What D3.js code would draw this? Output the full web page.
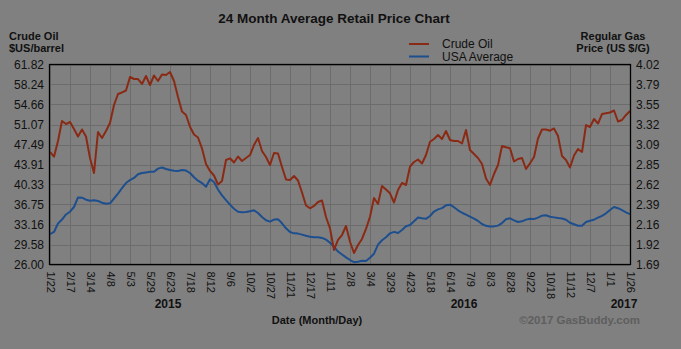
<!DOCTYPE html>
<html>
<head>
<meta charset="utf-8">
<script src="https://cdn.jsdelivr.net/npm/d3@7"></script>
<style>
  html, body { margin: 0; padding: 0; background: #808080; }
  svg { display: block; font-family: "Liberation Sans", Arial, sans-serif; }
</style>
</head>
<body>
<script>
// tick labels along the bottom (one every ~25 days)
const dateTicks = ['1/22','2/17','3/14','4/8','5/3','5/29','6/23','7/18','8/12','9/6','10/2','10/27',
  '11/21','12/17','1/11','2/8','3/4','3/29','4/23','5/18','6/14','7/9','8/3','8/28','9/22','10/18',
  '11/12','12/7','1/1','1/26'];
const years = ['2015', '2016', '2017'];
const yearAt = [5.9, 20.7, 28.7];   // in tick units
const crudeTicks = [26.00, 29.58, 33.16, 36.75, 40.33, 43.91, 47.49, 51.07, 54.66, 58.24, 61.82];
const gasTicks = [1.69, 1.92, 2.16, 2.39, 2.62, 2.85, 3.09, 3.32, 3.55, 3.79, 4.02];

// five samples per tick interval
const perTick = 5;
const crude = [
  46.15, 45.31, 48.12, 51.70, 51.16, 51.52, 50.27, 48.92, 50.18, 48.92,
  45.07, 42.39, 49.73, 48.66, 49.91, 51.34, 54.57, 56.54, 56.81, 57.16,
  59.58, 59.22, 59.22, 58.33, 59.76, 58.15, 59.85, 58.86, 60.03, 59.94,
  60.48, 58.86, 56.00, 53.40, 52.78, 50.68, 49.28, 48.75, 46.78, 44.00,
  42.75, 41.94, 40.33, 40.95, 44.72, 45.02, 44.27, 45.34, 44.54, 45.07,
  45.61, 47.40, 48.66, 46.33, 45.25, 43.82, 45.97, 45.88, 43.46, 41.22,
  41.13, 41.85, 41.04, 38.90, 36.57, 36.07, 36.48, 37.19, 37.46, 34.51,
  32.48, 28.60, 30.39, 31.28, 32.90, 30.08, 28.06, 29.49, 30.57, 32.36,
  34.56, 37.91, 36.84, 40.06, 39.43, 38.75, 37.10, 39.34, 40.60, 40.24,
  43.52, 44.36, 44.81, 44.09, 45.61, 47.99, 48.48, 49.19, 48.48, 49.91,
  48.30, 48.12, 48.12, 47.67, 50.09, 46.51, 45.79, 45.07, 44.00, 41.40,
  40.24, 42.21, 43.82, 47.22, 46.99, 46.81, 44.45, 44.90, 45.07, 43.10,
  44.12, 45.25, 48.57, 50.18, 50.18, 49.96, 50.36, 49.01, 45.43, 44.72,
  43.37, 45.52, 46.69, 46.15, 50.98, 50.63, 52.06, 51.25, 52.95, 53.08,
  53.22, 53.58, 51.61, 51.88, 52.78, 53.49
];
const usaAvg = [
  2.045, 2.069, 2.168, 2.214, 2.273, 2.305, 2.360, 2.471, 2.468, 2.445,
  2.433, 2.439, 2.430, 2.410, 2.397, 2.403, 2.459, 2.516, 2.581, 2.639,
  2.674, 2.698, 2.741, 2.756, 2.763, 2.771, 2.771, 2.807, 2.820, 2.803,
  2.791, 2.782, 2.779, 2.791, 2.784, 2.756, 2.706, 2.666, 2.639, 2.596,
  2.683, 2.651, 2.564, 2.495, 2.441, 2.387, 2.339, 2.304, 2.299, 2.302,
  2.311, 2.321, 2.290, 2.243, 2.206, 2.189, 2.213, 2.218, 2.170, 2.111,
  2.069, 2.053, 2.050, 2.038, 2.024, 2.014, 2.007, 2.007, 2.000, 1.980,
  1.944, 1.896, 1.841, 1.807, 1.773, 1.742, 1.717, 1.721, 1.733, 1.731,
  1.769, 1.816, 1.921, 1.972, 2.008, 2.053, 2.070, 2.057, 2.092, 2.135,
  2.150, 2.194, 2.238, 2.228, 2.222, 2.255, 2.307, 2.332, 2.347, 2.379,
  2.387, 2.358, 2.321, 2.293, 2.271, 2.247, 2.225, 2.197, 2.162, 2.141,
  2.133, 2.134, 2.143, 2.173, 2.217, 2.228, 2.205, 2.185, 2.193, 2.213,
  2.224, 2.219, 2.236, 2.259, 2.264, 2.247, 2.239, 2.231, 2.226, 2.212,
  2.177, 2.159, 2.141, 2.142, 2.185, 2.200, 2.212, 2.235, 2.257, 2.286,
  2.325, 2.360, 2.346, 2.323, 2.298, 2.277
];

const W = 681, H = 349;
const plotL = 50, plotR = 630, plotT = 64.5, plotB = 264.5;
const red = '#8a2a14', blue = '#1d4e8e', gridCol = '#6c6c6c';

const svg = d3.select('body').append('svg')
  .attr('width', W).attr('height', H);

const x = d3.scaleLinear().domain([0, dateTicks.length - 1]).range([plotL, plotR]);
const yL = d3.scaleLinear().domain([26, 61.82]).range([plotB, plotT]);
const yR = d3.scaleLinear().domain([1.69, 4.02]).range([plotB, plotT]);

// grid
const grid = svg.append('g').attr('stroke', gridCol).attr('stroke-width', 1);
grid.selectAll('line.v').data(dateTicks).enter().append('line')
  .attr('x1', (d, i) => Math.round(x(i)) + 0.5).attr('x2', (d, i) => Math.round(x(i)) + 0.5)
  .attr('y1', plotT).attr('y2', plotB);
grid.selectAll('line.h').data(crudeTicks).enter().append('line')
  .attr('x1', plotL).attr('x2', plotR)
  .attr('y1', d => Math.round(yL(d)) + 0.5).attr('y2', d => Math.round(yL(d)) + 0.5);

// series
const lineCrude = d3.line().x((d, i) => x(i / perTick)).y(d => yL(d));
const lineGas = d3.line().x((d, i) => x(i / perTick)).y(d => yR(d));

svg.append('path').datum(usaAvg)
  .attr('fill', 'none').attr('stroke', blue).attr('stroke-width', 2)
  .attr('stroke-linejoin', 'round').attr('d', lineGas);
svg.append('path').datum(crude)
  .attr('fill', 'none').attr('stroke', red).attr('stroke-width', 2)
  .attr('stroke-linejoin', 'round').attr('d', lineCrude);

// frame
svg.append('rect')
  .attr('x', plotL - 0.5).attr('y', plotT).attr('width', plotR - plotL + 1).attr('height', plotB - plotT)
  .attr('fill', 'none').attr('stroke', '#000').attr('stroke-width', 1.3);

// axes labels
const axL = d3.axisLeft(yL).tickValues(crudeTicks).tickFormat(d3.format('.2f')).tickSize(0).tickPadding(5);
const axR = d3.axisRight(yR).tickValues(gasTicks).tickFormat(d3.format('.2f')).tickSize(0).tickPadding(5);
const gl = svg.append('g').attr('transform', `translate(${plotL - 1},0)`).call(axL);
const gr = svg.append('g').attr('transform', `translate(${plotR + 1},0)`).call(axR);
[gl, gr].forEach(g => {
  g.select('.domain').remove();
  g.selectAll('text').attr('font-size', 12).attr('fill', '#111')
    .attr('font-family', '"Liberation Sans", Arial, sans-serif');
});

const axB = d3.axisBottom(x).tickValues(d3.range(dateTicks.length))
  .tickFormat(i => dateTicks[i]).tickSize(0);
const gb = svg.append('g').attr('transform', `translate(0,${plotB})`).call(axB);
gb.select('.domain').remove();
gb.selectAll('text')
  .attr('font-size', 11).attr('fill', '#111')
  .attr('font-family', '"Liberation Sans", Arial, sans-serif')
  .attr('text-anchor', 'start')
  .attr('transform', 'rotate(90)')
  .attr('x', 7).attr('y', 0).attr('dy', '0.35em');

// years
svg.selectAll('text.year').data(years).enter().append('text')
  .attr('x', (d, i) => x(yearAt[i])).attr('y', 308)
  .attr('text-anchor', 'middle').attr('font-size', 12).attr('font-weight', 'bold').attr('fill', '#111')
  .text(d => d);

// titles
svg.append('text').attr('x', 334).attr('y', 23).attr('text-anchor', 'middle')
  .attr('font-size', 13.5).attr('font-weight', 'bold').attr('fill', '#111')
  .text('24 Month Average Retail Price Chart');

svg.append('text').attr('x', 9).attr('y', 40)
  .attr('font-size', 11).attr('font-weight', 'bold').attr('fill', '#111').text('Crude Oil');
svg.append('text').attr('x', 9).attr('y', 52)
  .attr('font-size', 11).attr('font-weight', 'bold').attr('fill', '#111').text('$US/barrel');

svg.append('text').attr('x', 613).attr('y', 40).attr('text-anchor', 'middle')
  .attr('font-size', 11).attr('font-weight', 'bold').attr('fill', '#111').text('Regular Gas');
svg.append('text').attr('x', 613).attr('y', 52).attr('text-anchor', 'middle')
  .attr('font-size', 11).attr('font-weight', 'bold').attr('fill', '#111').text('Price (US $/G)');

svg.append('text').attr('x', 317).attr('y', 324).attr('text-anchor', 'middle')
  .attr('font-size', 11).attr('font-weight', 'bold').attr('fill', '#111').text('Date (Month/Day)');

svg.append('text').attr('x', 640).attr('y', 324).attr('text-anchor', 'end')
  .attr('font-size', 11.5).attr('font-weight', 'bold').attr('fill', '#5e5e5e').text('\u00a92017 GasBuddy.com');

// legend
const legend = [{ name: 'Crude Oil', color: red }, { name: 'USA Average', color: blue }];
const lg = svg.selectAll('g.legend').data(legend).enter().append('g')
  .attr('transform', (d, i) => `translate(409,${44 + i * 12.5})`);
lg.append('line').attr('x1', 0).attr('x2', 20).attr('y1', 0).attr('y2', 0)
  .attr('stroke', d => d.color).attr('stroke-width', 2);
lg.append('text').attr('x', 33).attr('y', 0).attr('dy', '0.35em')
  .attr('font-size', 12).attr('fill', '#111').text(d => d.name);
</script>
</body>
</html>
